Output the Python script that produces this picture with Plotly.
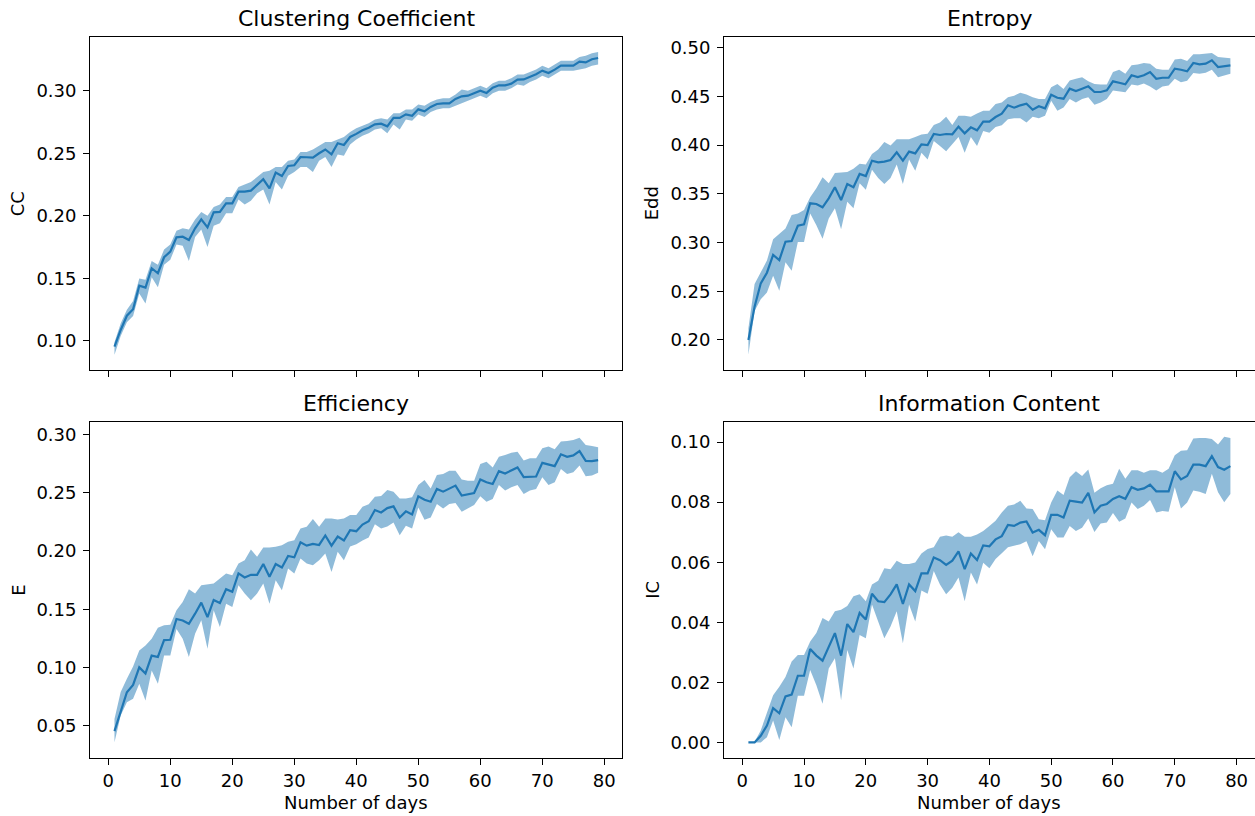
import plotly.graph_objects as go

# Day index shared by all four panels
days = list(range(1, 80))

# Clustering coefficient: mean and band edges
cc_mean = [0.0954, 0.1088, 0.1202, 0.1253, 0.1442, 0.1426, 0.1581, 0.1541, 0.1669, 0.1714,
           0.1828, 0.1833, 0.1807, 0.1900, 0.1972, 0.1908, 0.2028, 0.2031, 0.2100, 0.2100,
           0.2193, 0.2193, 0.2201, 0.2246, 0.2292, 0.2220, 0.2345, 0.2318, 0.2398, 0.2404,
           0.2470, 0.2468, 0.2465, 0.2500, 0.2530, 0.2492, 0.2580, 0.2566, 0.2630, 0.2655,
           0.2683, 0.2704, 0.2731, 0.2736, 0.2715, 0.2782, 0.2782, 0.2811, 0.2800, 0.2851,
           0.2835, 0.2870, 0.2894, 0.2899, 0.2899, 0.2934, 0.2955, 0.2960, 0.2982, 0.3000,
           0.2982, 0.3024, 0.3043, 0.3043, 0.3056, 0.3088, 0.3090, 0.3110, 0.3131, 0.3160,
           0.3141, 0.3168, 0.3200, 0.3200, 0.3200, 0.3232, 0.3226, 0.3251, 0.3261]
cc_lo = [0.089, 0.104, 0.115, 0.120, 0.138, 0.130, 0.151, 0.143, 0.161, 0.165,
         0.177, 0.176, 0.164, 0.183, 0.189, 0.175, 0.192, 0.194, 0.202, 0.202,
         0.213, 0.209, 0.212, 0.218, 0.221, 0.209, 0.227, 0.221, 0.232, 0.235,
         0.239, 0.239, 0.235, 0.244, 0.247, 0.239, 0.249, 0.248, 0.257, 0.261,
         0.264, 0.266, 0.269, 0.270, 0.266, 0.273, 0.269, 0.277, 0.276, 0.281,
         0.279, 0.283, 0.285, 0.286, 0.286, 0.288, 0.290, 0.292, 0.294, 0.296,
         0.294, 0.298, 0.300, 0.300, 0.302, 0.305, 0.304, 0.307, 0.309, 0.312,
         0.310, 0.313, 0.316, 0.316, 0.316, 0.317, 0.318, 0.320, 0.321]
cc_hi = [0.099, 0.114, 0.125, 0.132, 0.150, 0.149, 0.164, 0.161, 0.173, 0.177,
         0.188, 0.190, 0.189, 0.197, 0.203, 0.200, 0.207, 0.209, 0.215, 0.215,
         0.223, 0.225, 0.227, 0.231, 0.235, 0.236, 0.239, 0.239, 0.244, 0.245,
         0.251, 0.251, 0.253, 0.256, 0.259, 0.259, 0.261, 0.263, 0.267, 0.270,
         0.272, 0.274, 0.277, 0.278, 0.277, 0.282, 0.282, 0.285, 0.285, 0.289,
         0.288, 0.291, 0.293, 0.294, 0.294, 0.297, 0.301, 0.300, 0.302, 0.304,
         0.302, 0.306, 0.308, 0.308, 0.310, 0.313, 0.313, 0.315, 0.317, 0.320,
         0.318, 0.321, 0.324, 0.324, 0.324, 0.327, 0.328, 0.330, 0.331]

# Degree-distribution entropy
edd_mean = [0.2000, 0.2342, 0.2581, 0.2690, 0.2872, 0.2820, 0.3008, 0.3015, 0.3172, 0.3186,
            0.3402, 0.3395, 0.3361, 0.3453, 0.3566, 0.3436, 0.3600, 0.3566, 0.3703, 0.3682,
            0.3839, 0.3822, 0.3829, 0.3846, 0.3925, 0.3839, 0.3932, 0.3914, 0.4007, 0.4000,
            0.4113, 0.4103, 0.4113, 0.4110, 0.4188, 0.4120, 0.4181, 0.4151, 0.4239, 0.4240,
            0.4287, 0.4321, 0.4407, 0.4383, 0.4407, 0.4424, 0.4362, 0.4397, 0.4376, 0.4516,
            0.4485, 0.4475, 0.4578, 0.4554, 0.4578, 0.4602, 0.4544, 0.4544, 0.4561, 0.4653,
            0.4639, 0.4623, 0.4715, 0.4697, 0.4715, 0.4749, 0.4680, 0.4690, 0.4690, 0.4783,
            0.4772, 0.4756, 0.4841, 0.4828, 0.4834, 0.4869, 0.4800, 0.4810, 0.4817]
edd_lo = [0.1848, 0.2297, 0.2418, 0.2487, 0.2660, 0.2504, 0.2798, 0.2711, 0.3005, 0.3005,
          0.3298, 0.3177, 0.3039, 0.3246, 0.3350, 0.3136, 0.3419, 0.3350, 0.3609, 0.3540,
          0.3747, 0.3661, 0.3599, 0.3661, 0.3799, 0.3599, 0.3851, 0.3737, 0.3920, 0.3851,
          0.4040, 0.3989, 0.3937, 0.4006, 0.4082, 0.3920, 0.4082, 0.3989, 0.4144, 0.4127,
          0.4185, 0.4203, 0.4265, 0.4275, 0.4275, 0.4230, 0.4289, 0.4275, 0.4300, 0.4455,
          0.4351, 0.4386, 0.4472, 0.4437, 0.4472, 0.4489, 0.4413, 0.4437, 0.4472, 0.4560,
          0.4548, 0.4540, 0.4620, 0.4610, 0.4630, 0.4600, 0.4560, 0.4600, 0.4610, 0.4680,
          0.4644, 0.4660, 0.4738, 0.4730, 0.4740, 0.4772, 0.4696, 0.4714, 0.4731]
edd_hi = [0.2120, 0.2573, 0.2694, 0.2815, 0.3032, 0.3091, 0.3143, 0.3281, 0.3298, 0.3333,
          0.3464, 0.3557, 0.3668, 0.3609, 0.3712, 0.3719, 0.3723, 0.3757, 0.3809, 0.3799,
          0.3909, 0.3954, 0.4030, 0.3996, 0.4058, 0.4058, 0.4058, 0.4082, 0.4109, 0.4116,
          0.4206, 0.4230, 0.4289, 0.4206, 0.4299, 0.4299, 0.4289, 0.4323, 0.4351, 0.4351,
          0.4420, 0.4437, 0.4489, 0.4506, 0.4537, 0.4517, 0.4489, 0.4472, 0.4472, 0.4593,
          0.4627, 0.4575, 0.4662, 0.4679, 0.4696, 0.4655, 0.4627, 0.4620, 0.4620, 0.4748,
          0.4772, 0.4731, 0.4817, 0.4827, 0.4841, 0.4834, 0.4783, 0.4772, 0.4772, 0.4876,
          0.4886, 0.4862, 0.4931, 0.4931, 0.4938, 0.4945, 0.4903, 0.4896, 0.4890]

# Efficiency
e_mean = [0.0456, 0.0622, 0.0789, 0.0852, 0.1002, 0.0950, 0.1103, 0.1091, 0.1235, 0.1238,
          0.1416, 0.1404, 0.1375, 0.1462, 0.1557, 0.1433, 0.1580, 0.1554, 0.1672, 0.1649,
          0.1807, 0.1772, 0.1795, 0.1795, 0.1888, 0.1778, 0.1888, 0.1858, 0.1957, 0.1945,
          0.2074, 0.2045, 0.2060, 0.2051, 0.2132, 0.2045, 0.2123, 0.2089, 0.2178, 0.2169,
          0.2226, 0.2255, 0.2350, 0.2330, 0.2367, 0.2382, 0.2287, 0.2339, 0.2313, 0.2468,
          0.2439, 0.2422, 0.2531, 0.2508, 0.2537, 0.2560, 0.2474, 0.2485, 0.2496, 0.2612,
          0.2589, 0.2574, 0.2684, 0.2664, 0.2690, 0.2715, 0.2632, 0.2634, 0.2638, 0.2755,
          0.2738, 0.2727, 0.2828, 0.2807, 0.2819, 0.2856, 0.2772, 0.2770, 0.2778]
e_lo = [0.0360, 0.0589, 0.0703, 0.0732, 0.0861, 0.0718, 0.0975, 0.0861, 0.1104, 0.1104,
        0.1330, 0.1247, 0.1090, 0.1290, 0.1405, 0.1161, 0.1491, 0.1348, 0.1548, 0.1519,
        0.1706, 0.1634, 0.1577, 0.1634, 0.1720, 0.1548, 0.1749, 0.1663, 0.1849, 0.1806,
        0.1935, 0.1892, 0.1877, 0.1920, 0.1978, 0.1820, 0.1992, 0.1920, 0.2037, 0.2057,
        0.2090, 0.2114, 0.2229, 0.2192, 0.2209, 0.2244, 0.2134, 0.2215, 0.2192, 0.2373,
        0.2267, 0.2287, 0.2402, 0.2364, 0.2402, 0.2410, 0.2336, 0.2364, 0.2393, 0.2468,
        0.2422, 0.2445, 0.2565, 0.2517, 0.2546, 0.2565, 0.2488, 0.2517, 0.2531, 0.2632,
        0.2565, 0.2589, 0.2703, 0.2660, 0.2675, 0.2733, 0.2640, 0.2646, 0.2669]
e_hi = [0.0560, 0.0790, 0.0904, 0.1010, 0.1147, 0.1190, 0.1247, 0.1342, 0.1362, 0.1368,
        0.1491, 0.1562, 0.1671, 0.1634, 0.1706, 0.1714, 0.1720, 0.1763, 0.1806, 0.1792,
        0.1892, 0.1920, 0.2012, 0.1949, 0.2029, 0.2029, 0.2035, 0.2049, 0.2078, 0.2092,
        0.2192, 0.2207, 0.2273, 0.2207, 0.2278, 0.2278, 0.2270, 0.2278, 0.2307, 0.2307,
        0.2379, 0.2401, 0.2464, 0.2470, 0.2522, 0.2507, 0.2450, 0.2450, 0.2459, 0.2565,
        0.2608, 0.2536, 0.2651, 0.2659, 0.2688, 0.2688, 0.2613, 0.2602, 0.2602, 0.2745,
        0.2765, 0.2716, 0.2808, 0.2822, 0.2842, 0.2851, 0.2774, 0.2794, 0.2794, 0.2880,
        0.2894, 0.2871, 0.2937, 0.2943, 0.2951, 0.2971, 0.2908, 0.2900, 0.2888]

# Information content
ic_mean = [0.0000, 0.0000, 0.0022, 0.0056, 0.0114, 0.0097, 0.0153, 0.0159, 0.0222, 0.0222,
           0.0311, 0.0289, 0.0272, 0.0316, 0.0364, 0.0289, 0.0394, 0.0367, 0.0431, 0.0409,
           0.0495, 0.0470, 0.0467, 0.0493, 0.0526, 0.0461, 0.0526, 0.0504, 0.0563, 0.0563,
           0.0616, 0.0607, 0.0591, 0.0605, 0.0636, 0.0577, 0.0629, 0.0607, 0.0656, 0.0653,
           0.0676, 0.0687, 0.0724, 0.0721, 0.0732, 0.0736, 0.0699, 0.0708, 0.0690, 0.0758,
           0.0758, 0.0749, 0.0805, 0.0802, 0.0799, 0.0831, 0.0766, 0.0788, 0.0794, 0.0811,
           0.0820, 0.0811, 0.0850, 0.0841, 0.0846, 0.0858, 0.0836, 0.0836, 0.0836, 0.0903,
           0.0876, 0.0887, 0.0925, 0.0925, 0.0920, 0.0953, 0.0917, 0.0908, 0.0920]
ic_lo = [0.0000, 0.0000, 0.0000, 0.0017, 0.0073, 0.0008, 0.0084, 0.0050, 0.0155, 0.0155,
         0.0241, 0.0190, 0.0129, 0.0246, 0.0280, 0.0140, 0.0308, 0.0246, 0.0358, 0.0347,
         0.0459, 0.0403, 0.0347, 0.0386, 0.0437, 0.0330, 0.0459, 0.0403, 0.0506, 0.0495,
         0.0571, 0.0526, 0.0493, 0.0515, 0.0549, 0.0470, 0.0566, 0.0526, 0.0598, 0.0580,
         0.0611, 0.0630, 0.0650, 0.0655, 0.0660, 0.0670, 0.0620, 0.0671, 0.0643, 0.0710,
         0.0682, 0.0682, 0.0721, 0.0704, 0.0715, 0.0746, 0.0701, 0.0729, 0.0732, 0.0764,
         0.0735, 0.0746, 0.0799, 0.0777, 0.0788, 0.0807, 0.0766, 0.0771, 0.0768, 0.0850,
         0.0779, 0.0799, 0.0839, 0.0835, 0.0827, 0.0895, 0.0833, 0.0800, 0.0827]
ic_hi = [0.0000, 0.0002, 0.0040, 0.0100, 0.0157, 0.0185, 0.0218, 0.0269, 0.0291, 0.0291,
         0.0336, 0.0364, 0.0414, 0.0403, 0.0437, 0.0442, 0.0454, 0.0487, 0.0493, 0.0470,
         0.0526, 0.0538, 0.0580, 0.0577, 0.0605, 0.0594, 0.0594, 0.0599, 0.0629, 0.0644,
         0.0650, 0.0685, 0.0689, 0.0685, 0.0700, 0.0685, 0.0685, 0.0692, 0.0704, 0.0721,
         0.0738, 0.0766, 0.0788, 0.0792, 0.0805, 0.0779, 0.0777, 0.0743, 0.0740, 0.0799,
         0.0839, 0.0824, 0.0883, 0.0903, 0.0887, 0.0909, 0.0831, 0.0846, 0.0856, 0.0861,
         0.0911, 0.0878, 0.0906, 0.0906, 0.0898, 0.0906, 0.0906, 0.0898, 0.0911, 0.0956,
         0.0971, 0.0973, 0.1012, 0.1014, 0.1014, 0.1010, 0.0992, 0.1018, 0.1014]

# Panel titles, axis labels and tick values
titles = ["Clustering Coefficient", "Entropy", "Efficiency", "Information Content"]
ylabels = ["CC", "Edd", "E", "IC"]
xlabel = "Number of days"
x_ticks = [0, 10, 20, 30, 40, 50, 60, 70, 80]
y_ticks = [
    [0.10, 0.15, 0.20, 0.25, 0.30],
    [0.20, 0.25, 0.30, 0.35, 0.40, 0.45, 0.50],
    [0.05, 0.10, 0.15, 0.20, 0.25, 0.30],
    [0.00, 0.02, 0.04, 0.06, 0.08, 0.10],
]

W, H = 1255, 816
FONT = "DejaVu Sans"
LINE_C = "#1f77b4"
FILL_C = "rgba(31,119,180,0.5)"

# Axes boxes in pixels: (left, right, top, bottom)
boxes = [(90.3, 622.3, 37, 370), (724.3, 1254.5, 37, 370),
         (90.3, 622.3, 422, 758), (724.3, 1254.5, 422, 758)]
y_ranges = [[0.0768, 0.3429], [0.1692, 0.5108], [0.0225, 0.3105], [-0.0052, 0.1067]]
series = [(cc_mean, cc_lo, cc_hi), (edd_mean, edd_lo, edd_hi),
          (e_mean, e_lo, e_hi), (ic_mean, ic_lo, ic_hi)]

fig = go.Figure()
layout = dict(
    width=W, height=H,
    margin=dict(l=0, r=0, t=0, b=0),
    paper_bgcolor="white", plot_bgcolor="white",
    showlegend=False,
    font=dict(family=FONT, size=18, color="black"),
)
annotations = []

for i, (mean, lo, hi) in enumerate(series):
    k = "" if i == 0 else str(i + 1)
    xa, ya = "x" + k, "y" + k
    left, right, top, bottom = boxes[i]

    fig.add_trace(go.Scatter(
        x=days + days[::-1], y=hi + lo[::-1],
        fill="toself", fillcolor=FILL_C, line=dict(width=0),
        mode="lines", hoverinfo="skip", xaxis=xa, yaxis=ya))
    fig.add_trace(go.Scatter(
        x=days, y=mean, mode="lines",
        line=dict(color=LINE_C, width=2.2), xaxis=xa, yaxis=ya))

    bottom_row = i >= 2
    layout["xaxis" + k] = dict(
        domain=[left / W, right / W], anchor=ya, range=[-2.9, 82.9],
        tickvals=x_ticks, ticktext=[str(t) for t in x_ticks],
        showticklabels=bottom_row, ticks="outside", ticklen=6, tickwidth=1.4,
        tickcolor="black", showline=True, mirror=True, linecolor="black",
        linewidth=1.4, showgrid=False, zeroline=False,
        tickfont=dict(size=18, family=FONT, color="black"),
        ticklabelstandoff=0,
    )
    layout["yaxis" + k] = dict(
        domain=[1 - bottom / H, 1 - top / H], anchor=xa, range=y_ranges[i],
        tickvals=y_ticks[i], ticktext=[f"{v:.2f}" for v in y_ticks[i]],
        ticks="outside", ticklen=6, tickwidth=1.4, tickcolor="black",
        showline=True, mirror=True, linecolor="black", linewidth=1.4,
        showgrid=False, zeroline=False,
        tickfont=dict(size=18, family=FONT, color="black"),
        ticklabelstandoff=3,
    )

    cx = (left + right) / 2
    # Panel title
    annotations.append(dict(
        text=titles[i], x=cx / W, y=1 - (top - 4) / H, xref="paper", yref="paper",
        xanchor="center", yanchor="bottom", showarrow=False,
        font=dict(size=22, family=FONT, color="black")))
    # Y-axis label
    annotations.append(dict(
        text=ylabels[i], x=(left - 60) / W, y=1 - ((top + bottom) / 2) / H,
        xref="paper", yref="paper", xanchor="right", yanchor="middle",
        textangle=-90, showarrow=False,
        font=dict(size=18, family=FONT, color="black")))
    if bottom_row:
        annotations.append(dict(
            text=xlabel, x=cx / W, y=1 - (bottom + 32) / H, xref="paper", yref="paper",
            xanchor="center", yanchor="top", showarrow=False,
            font=dict(size=18, family=FONT, color="black")))

layout["annotations"] = annotations
fig.update_layout(**layout)
fig.write_html("out.html")
